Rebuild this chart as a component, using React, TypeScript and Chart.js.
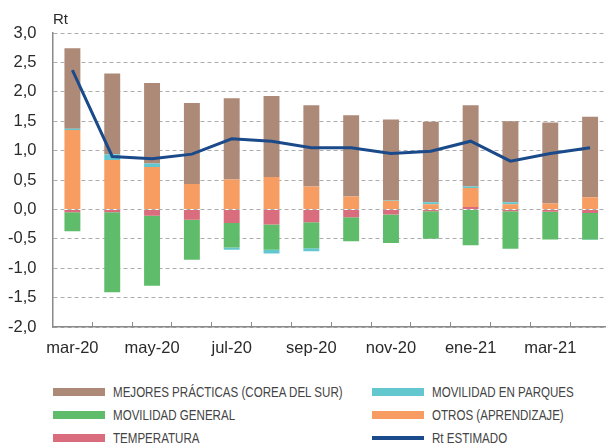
import React, { useEffect, useRef } from "react";
import { Chart, registerables } from "chart.js";

Chart.register(...registerables);

const categories = ["mar-20", "abr-20", "may-20", "jun-20", "jul-20", "ago-20", "sep-20", "oct-20", "nov-20", "dic-20", "ene-21", "feb-21", "mar-21", "abr-21"];
const temperatura = [-0.05, -0.05, -0.11, -0.175, -0.23, -0.255, -0.22, -0.135, -0.085, -0.03, 0.04, -0.03, -0.04, -0.06];
const otros = [1.35, 0.84, 0.72, 0.43, 0.51, 0.55, 0.39, 0.22, 0.145, 0.087, 0.325, 0.087, 0.1, 0.205];
const movilidadGeneral = [-0.32, -1.36, -1.19, -0.68, -0.42, -0.43, -0.44, -0.405, -0.485, -0.47, -0.61, -0.64, -0.47, -0.45];
const movilidadParques = [0.02, 0.1, 0.06, 0, -0.035, -0.065, -0.05, 0, 0.015, 0.033, 0.025, 0.033, 0, -0.01];
const mejoresPracticas = [1.37, 1.37, 1.37, 1.38, 1.38, 1.38, 1.38, 1.38, 1.37, 1.37, 1.38, 1.38, 1.38, 1.37];
const rtEstimado = [2.37, 0.9, 0.86, 0.94, 1.2, 1.16, 1.05, 1.05, 0.95, 0.99, 1.16, 0.82, 0.95, 1.05];

const C_BROWN = "#AD8977";
const C_GREEN = "#5EBC6A";
const C_PINK = "#D96D7D";
const C_CYAN = "#63C7CF";
const C_ORANGE = "#F89D62";
const C_LINE = "#1A4A8A";

const legendItems = [
  { label: "MEJORES PRÁCTICAS (COREA DEL SUR)", color: C_BROWN, line: false, col: 0, row: 0 },
  { label: "MOVILIDAD EN PARQUES", color: C_CYAN, line: false, col: 1, row: 0 },
  { label: "MOVILIDAD GENERAL", color: C_GREEN, line: false, col: 0, row: 1 },
  { label: "OTROS (APRENDIZAJE)", color: C_ORANGE, line: false, col: 1, row: 1 },
  { label: "TEMPERATURA", color: C_PINK, line: false, col: 0, row: 2 },
  { label: "Rt ESTIMADO", color: C_LINE, line: true, col: 1, row: 2 },
];

const TICK_FONT = { family: "'Liberation Sans', Arial, sans-serif", size: 16.5 };

export default function App() {
  const ref = useRef<HTMLCanvasElement>(null);
  useEffect(() => {
    if (!ref.current) return;
    const barCommon = { stack: "bars", order: 1, barPercentage: 0.4, categoryPercentage: 1, borderWidth: 0 };
    const chart = new Chart(ref.current, {
      type: "bar",
      data: {
        labels: categories,
        datasets: [
          { type: "line", label: "Rt ESTIMADO", data: rtEstimado, borderColor: C_LINE, backgroundColor: C_LINE, borderWidth: 3, pointRadius: 0, tension: 0, stack: "line", order: 0 } as any,
          { label: "TEMPERATURA", data: temperatura, backgroundColor: C_PINK, ...barCommon },
          { label: "OTROS (APRENDIZAJE)", data: otros, backgroundColor: C_ORANGE, ...barCommon },
          { label: "MOVILIDAD GENERAL", data: movilidadGeneral, backgroundColor: C_GREEN, ...barCommon },
          { label: "MOVILIDAD EN PARQUES", data: movilidadParques, backgroundColor: C_CYAN, ...barCommon },
          { label: "MEJORES PRÁCTICAS (COREA DEL SUR)", data: mejoresPracticas, backgroundColor: C_BROWN, ...barCommon },
        ],
      },
      options: {
        responsive: false,
        animation: false,
        devicePixelRatio: 1,
        layout: { padding: { top: 33, left: 0, right: 0, bottom: 0 } },
        plugins: { legend: { display: false }, tooltip: { enabled: false }, title: { display: false } },
        scales: {
          x: {
            stacked: true,
            offset: true,
            grid: { display: true, offset: true, drawOnChartArea: false, drawTicks: true, tickLength: -5, color: "#8a8a8a", lineWidth: 1 },
            border: { display: true, color: "#8a8a8a", width: 1.5 },
            ticks: {
              autoSkip: false,
              maxRotation: 0,
              minRotation: 0,
              padding: 17,
              color: "#2a2a2a",
              font: TICK_FONT,
              callback: (_v: any, i: number) => (i % 2 === 0 ? categories[i] : ""),
            },
            afterFit: (s: any) => { s.height = 43; },
          },
          y: {
            stacked: true,
            min: -2,
            max: 3,
            grid: { color: "#adadad", lineWidth: 1, drawTicks: false },
            border: { display: true, color: "#8a8a8a", width: 1.5, dash: [4, 3] },
            ticks: {
              stepSize: 0.5,
              padding: 16,
              color: "#2a2a2a",
              font: TICK_FONT,
              callback: (v: any) => Number(v).toFixed(1).replace(".", ","),
            },
            afterFit: (s: any) => { s.width = 52.5; },
          },
        },
      },
    });
    return () => chart.destroy();
  }, []);

  return (
    <div style={{ position: "fixed", left: 0, top: 0, width: 606, height: 445, overflow: "hidden", background: "#fff" }}>
      <canvas ref={ref} width={610} height={370} style={{ display: "block", width: 610, height: 370 }} />
      <div style={{ position: "absolute", left: 53, top: 9.5, fontFamily: "'Liberation Sans', Arial, sans-serif", fontSize: 15, lineHeight: "17px", color: "#2a2a2a" }}>Rt</div>
      {legendItems.map((it) => {
        const cy = 391.7 + it.row * 23.3;
        const sx = it.col === 0 ? 53 : 372;
        const h = it.line ? 4 : 8;
        return (
          <React.Fragment key={it.label}>
            <div style={{ position: "absolute", left: sx, top: cy - h / 2, width: 52, height: h, background: it.color }} />
            <div style={{ position: "absolute", left: sx + 59.5, top: cy - 9, height: 18, lineHeight: "18px", fontFamily: "'Liberation Sans', Arial, sans-serif", fontSize: 14.2, color: "#444", whiteSpace: "nowrap", transform: "scaleX(0.815)", transformOrigin: "0 50%" }}>{it.label}</div>
          </React.Fragment>
        );
      })}
    </div>
  );
}
